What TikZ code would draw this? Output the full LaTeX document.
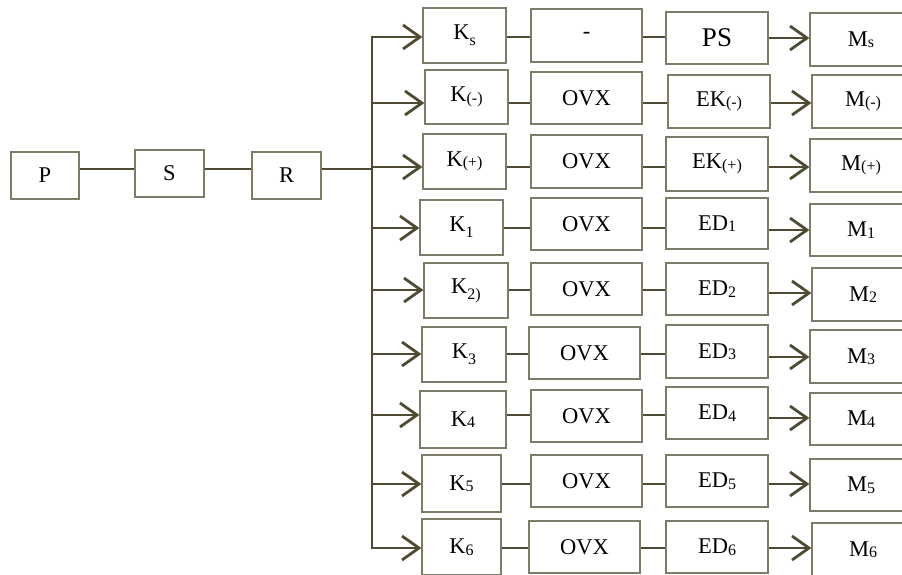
\documentclass[tikz,border=0pt]{standalone}
\usepackage{fontspec}
\setmainfont{Liberation Serif}
\usetikzlibrary{arrows.meta}
\definecolor{linec}{HTML}{4F4A33}
\definecolor{boxc}{HTML}{7E7C68}
\newcommand\lsub[1]{\raisebox{-6pt}{\fontsize{16}{16}\selectfont #1}}
\newcommand\bsub[1]{\raisebox{-1.5pt}{\fontsize{16}{16}\selectfont #1}}
\newcommand\bx[6]{\node[boxs, minimum width={(#4-#2)*1pt}, minimum height={(#5-#3)*1pt}] (#1) at ({(#2+#4)/2},{(#3+#5)/2}) {#6};}
\begin{document}
\begin{tikzpicture}[x=1pt,y=-1pt,
  boxs/.style={draw=boxc, line width=1.2pt, fill=white, inner sep=0pt, font=\fontsize{22.5}{22.5}\selectfont},
  conn/.style={draw=linec, line width=2.8pt},
  arr/.style={conn, -{Straight Barb[length=17pt,width=24pt]}}]
\useasboundingbox (0,0) rectangle (902,574);
\fill[white] (0,0) rectangle (902,574);
% left chain
\bx{P}{11}{152}{79}{199}{P}
\bx{S}{135}{150}{204}{197}{S}
\bx{R}{252}{152}{321}{199}{R}
\coordinate (h) at (372,169);
% row 1
\bx{k1}{423}{8}{506}{63}{K\lsub{s}}
\bx{c1}{531}{9}{642}{62}{-}
\bx{d1}{666}{12}{768}{64}{\fontsize{27}{27}\selectfont PS}
\bx{m1}{810}{13}{912}{66}{M\bsub{s}}
% row 2
\bx{k2}{425}{70}{508}{124}{K\bsub{(-)}}
\bx{c2}{531}{72}{642}{124}{OVX}
\bx{d2}{668}{75}{770}{128}{EK\bsub{(-)}}
\bx{m2}{812}{75}{914}{128}{M\bsub{(-)}}
% row 3
\bx{k3}{423}{134}{506}{189}{K\bsub{(+)}}
\bx{c3}{531}{135}{642}{188}{OVX}
\bx{d3}{666}{137}{768}{191}{EK\bsub{(+)}}
\bx{m3}{810}{139}{912}{192}{M\bsub{(+)}}
% row 4
\bx{k4}{420}{200}{503}{255}{K\lsub{1}}
\bx{c4}{531}{198}{642}{250}{OVX}
\bx{d4}{666}{198}{768}{249}{ED\bsub{1}}
\bx{m4}{810}{204}{912}{256}{M\bsub{1}}
% row 5
\bx{k5}{424}{263}{508}{318}{K\lsub{2)}}
\bx{c5}{531}{263}{642}{315}{OVX}
\bx{d5}{666}{263}{768}{315}{ED\bsub{2}}
\bx{m5}{812}{268}{914}{321}{M\bsub{2}}
% row 6
\bx{k6}{422}{327}{506}{382}{K\lsub{3}}
\bx{c6}{529}{327}{640}{379}{OVX}
\bx{d6}{666}{325}{768}{378}{ED\bsub{3}}
\bx{m6}{810}{330}{912}{383}{M\bsub{3}}
% row 7
\bx{k7}{420}{391}{506}{448}{K\bsub{4}}
\bx{c7}{531}{390}{642}{442}{OVX}
\bx{d7}{666}{387}{768}{439}{ED\bsub{4}}
\bx{m7}{810}{393}{912}{445}{M\bsub{4}}
% row 8
\bx{k8}{422}{455}{501}{512}{K\bsub{5}}
\bx{c8}{531}{455}{642}{507}{OVX}
\bx{d8}{666}{455}{768}{507}{ED\bsub{5}}
\bx{m8}{810}{459}{912}{511}{M\bsub{5}}
% row 9
\bx{k9}{422}{519}{501}{575}{K\bsub{6}}
\bx{c9}{529}{521}{640}{573}{OVX}
\bx{d9}{666}{521}{768}{573}{ED\bsub{6}}
\bx{m9}{812}{523}{914}{576}{M\bsub{6}}
% connectors left
\draw[conn] (P.east|-h) -- (S.west|-h);
\draw[conn] (S.east|-h) -- (R.west|-h);
\draw[conn] (R.east|-h) -- (h);
\foreach \i/\a/\b in {1/37/38,2/103/103,3/167/167,4/228/230,5/290/293,6/354/357,7/415/418,8/484/484,9/548/548}{
  \coordinate (ja\i) at (372,\a);
  \coordinate (jb\i) at (0,\b);
  \draw[arr] (ja\i) -- (k\i.west|-ja\i);
  \draw[conn] (k\i.east|-ja\i) -- (c\i.west|-ja\i);
  \draw[conn] (c\i.east|-ja\i) -- (d\i.west|-ja\i);
  \draw[arr] (d\i.east|-jb\i) -- (m\i.west|-jb\i);
}
\draw[conn] ([yshift=1.4pt]ja1) -- ([yshift=-1.4pt]ja9);
\end{tikzpicture}
\end{document}
